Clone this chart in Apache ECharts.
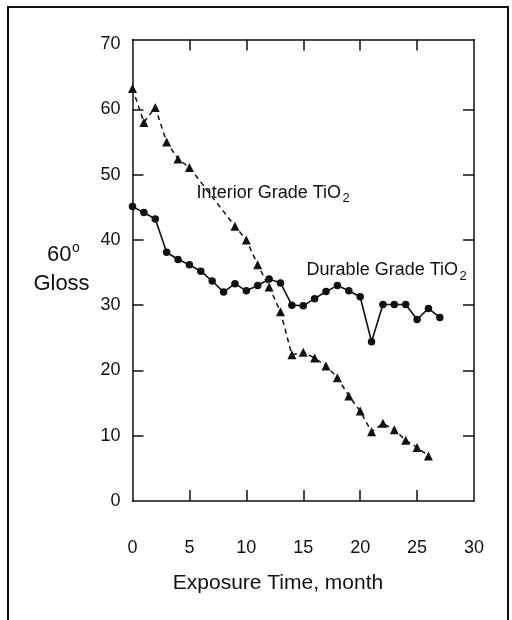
<!DOCTYPE html>
<html><head><meta charset="utf-8">
<script src="https://cdn.jsdelivr.net/npm/echarts@6/dist/echarts.min.js"></script>
<style>html,body{margin:0;padding:0;background:#fff}#c{width:512px;height:620px}</style>
</head><body><div id="c"></div>
<script>
// Durable Grade TiO2 (circles, solid)
const durableMonths = [0,1,2,3,4,5,6,7,8,9,10,11,12,13,14,15,16,17,18,19,20,21,22,23,24,25,26,27];
const durableGloss  = [45.1,44.2,43.2,38.1,37.0,36.2,35.2,33.7,32.0,33.3,32.2,33.0,34.0,33.4,30.0,29.9,31.0,32.1,33.0,32.2,31.3,24.4,30.1,30.1,30.1,27.8,29.5,28.1];
// Interior Grade TiO2 (triangles, dashed)
const interiorMonths = [0,1,2,3,4,5,9,10,11,12,13,14,15,16,17,18,19,20,21,22,23,24,25,26];
const interiorGloss  = [63.2,58.0,60.3,55.0,52.4,51.1,42.1,40.0,36.2,32.8,29.0,22.4,22.8,21.9,20.7,18.9,16.1,13.8,10.6,11.9,10.9,9.3,8.2,6.9];
// Axis ticks
const xTicks = [0,5,10,15,20,25,30];
const yTicks = [0,10,20,30,40,50,60,70];

const FONT = 'Liberation Sans, Arial, Helvetica, sans-serif';
const pair = (xs, ys) => xs.map((x, i) => [x, ys[i]]);
const xStep = xTicks[1] - xTicks[0];
const yStep = yTicks[1] - yTicks[0];
const xInner = xTicks.slice(1, -1);
const yInner = yTicks.slice(1, -1);

function axisCommon(inner) {
  return {
    axisLine: { show: true, onZero: false, lineStyle: { color: '#111', width: 1.5 } },
    axisTick: { show: true, inside: true, length: 11, customValues: inner, lineStyle: { color: '#111', width: 1.5 } },
    splitLine: { show: false }
  };
}

function txt(text, x, y, size, align, valign) {
  return {
    type: 'text', z: 100,
    style: {
      text: text, x: x, y: y,
      font: size + 'px ' + FONT,
      fill: '#111',
      textAlign: align, align: align,
      textVerticalAlign: valign, verticalAlign: valign
    }
  };
}

const chart = echarts.init(document.getElementById('c'), null, { renderer: 'canvas' });
chart.setOption({
  backgroundColor: '#fff',
  animation: false,
  grid: { left: 132.5, top: 39.5, width: 341.5, height: 461.5, containLabel: false },
  xAxis: [
    Object.assign({
      type: 'value', position: 'bottom',
      min: xTicks[0], max: xTicks[xTicks.length - 1], interval: xStep,
      axisLabel: { show: true, margin: 38, fontSize: 18, fontFamily: FONT, color: '#111' }
    }, axisCommon(xInner)),
    Object.assign({
      type: 'value', position: 'top',
      min: xTicks[0], max: xTicks[xTicks.length - 1], interval: xStep,
      axisLabel: { show: false }
    }, axisCommon(xInner))
  ],
  yAxis: [
    Object.assign({
      type: 'value', position: 'left',
      min: yTicks[0], max: 70.7, interval: yStep,
      axisLabel: {
        show: true, margin: 12, fontSize: 18, fontFamily: FONT, color: '#111',
        formatter: v => (yTicks.indexOf(Math.round(v * 10) / 10) >= 0 ? String(v) : '')
      }
    }, axisCommon(yInner)),
    Object.assign({
      type: 'value', position: 'right',
      min: yTicks[0], max: 70.7, interval: yStep,
      axisLabel: { show: false }
    }, axisCommon(yInner))
  ],
  series: [
    {
      name: 'Durable Grade TiO2', type: 'line', xAxisIndex: 0, yAxisIndex: 0,
      data: pair(durableMonths, durableGloss),
      symbol: 'circle', symbolSize: 7.5,
      lineStyle: { color: '#111', width: 1.6 },
      itemStyle: { color: '#111', borderWidth: 0 },
      z: 5
    },
    {
      name: 'Interior Grade TiO2', type: 'line', xAxisIndex: 0, yAxisIndex: 0,
      data: pair(interiorMonths, interiorGloss),
      symbol: 'triangle', symbolSize: 9,
      lineStyle: { color: '#111', width: 1.5, type: [5, 4] },
      itemStyle: { color: '#111', borderWidth: 0 },
      z: 4
    }
  ],
  graphic: [
    { type: 'rect', z: 100, shape: { x: 8, y: 7, width: 500, height: 700 },
      style: { fill: 'none', stroke: '#111', lineWidth: 2 } },
    txt('60', 71.5, 255, 22, 'right', 'middle'),
    txt('o', 72, 248, 14, 'left', 'middle'),
    txt('Gloss', 61.5, 284, 22, 'center', 'middle'),
    txt('Exposure Time, month', 278, 583, 21, 'center', 'middle'),
    txt('Interior Grade TiO', 341, 193, 18, 'right', 'middle'),
    txt('2', 342.5, 198, 13, 'left', 'middle'),
    txt('Durable Grade TiO', 458, 270, 18, 'right', 'middle'),
    txt('2', 459.5, 276, 13, 'left', 'middle')
  ]
});
</script>
</body></html>
